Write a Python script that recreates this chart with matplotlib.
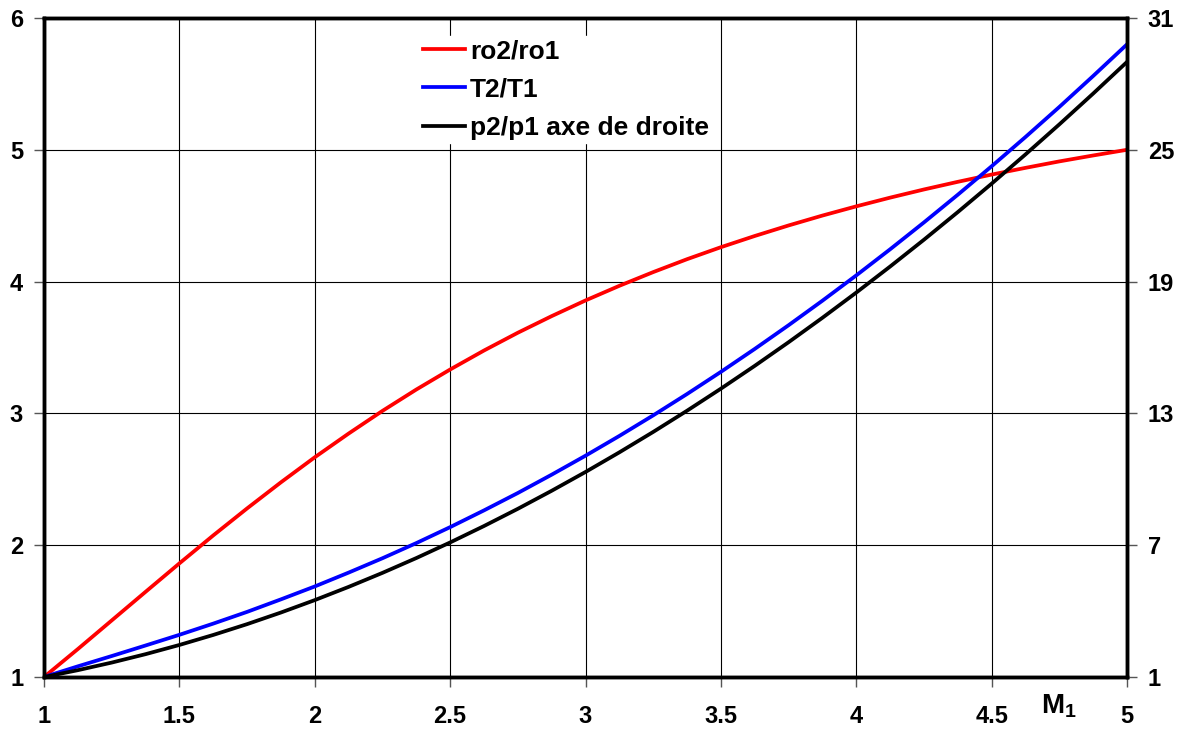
import matplotlib
matplotlib.use('Agg')
import matplotlib.pyplot as plt

plt.rcParams['font.family'] = ['Liberation Sans', 'DejaVu Sans']
plt.rcParams['font.weight'] = 'bold'
plt.rcParams['mathtext.fontset'] = 'custom'
plt.rcParams['mathtext.bf'] = 'Liberation Sans:bold'
plt.rcParams['mathtext.rm'] = 'Liberation Sans:bold'

# nombre de Mach amont
mach = [1.0, 1.125, 1.25, 1.375, 1.5, 1.625, 1.75, 1.875, 2.0, 2.125, 2.25, 2.375, 2.5,
        2.625, 2.75, 2.875, 3.0, 3.125, 3.25, 3.375, 3.5, 3.625, 3.75, 3.875, 4.0,
        4.125, 4.25, 4.375, 4.5, 4.625, 4.75, 4.875, 5.0]
# rapports
ro_ratio = [1.0, 1.212, 1.429, 1.646, 1.862, 2.074, 2.279, 2.477, 2.667, 2.847, 3.019,
            3.181, 3.333, 3.477, 3.612, 3.738, 3.857, 3.968, 4.072, 4.170, 4.261, 4.346,
            4.426, 4.501, 4.571, 4.637, 4.699, 4.757, 4.812, 4.863, 4.912, 4.957, 5.0]
t_ratio = [1.0, 1.081, 1.159, 1.239, 1.320, 1.405, 1.494, 1.589, 1.687, 1.792, 1.901,
           2.016, 2.137, 2.264, 2.396, 2.535, 2.679, 2.829, 2.985, 3.147, 3.315, 3.489,
           3.669, 3.855, 4.047, 4.245, 4.449, 4.659, 4.875, 5.097, 5.325, 5.560, 5.8]
p_ratio = [1.0, 1.310, 1.656, 2.039, 2.458, 2.914, 3.406, 3.935, 4.5, 5.102, 5.740,
           6.414, 7.125, 7.872, 8.656, 9.477, 10.333, 11.227, 12.156, 13.122, 14.125,
           15.164, 16.240, 17.352, 18.5, 19.685, 20.906, 22.164, 23.458, 24.789, 26.156,
           27.560, 29.0]

x_ticks = [1, 1.5, 2, 2.5, 3, 3.5, 4, 4.5, 5]
x_labels = ['1', '1.5', '2', '2.5', '3', '3.5', '4', '4.5', '5']
left_ticks = [1, 2, 3, 4, 5, 6]
right_ticks = [1, 7, 13, 19, 25, 31]

fig = plt.figure(figsize=(11.84, 7.29), dpi=100)
ax = fig.add_axes([44/1184, 52/729, 1083/1184, 659/729])
ax2 = ax.twinx()

l1, = ax.plot(mach, ro_ratio, color='#ff0000', lw=2.7, label='ro2/ro1')
l2, = ax.plot(mach, t_ratio, color='#0000ff', lw=2.7, label='T2/T1')
l3, = ax2.plot(mach, p_ratio, color='black', lw=2.7, label='p2/p1 axe de droite')

ax.set_xlim(1, 5)
ax.set_ylim(1, 6)
ax2.set_ylim(1, 31)
ax.set_xticks(x_ticks)
ax.set_xticklabels(x_labels)
ax.set_yticks(left_ticks)
ax2.set_yticks(right_ticks)

ax.grid(True, color='black', lw=0.8)
for a in (ax, ax2):
    a.tick_params(labelsize=17, length=7, width=1, color='#555555', direction='out')
    for s in a.spines.values():
        s.set_linewidth(2.5)
ax.tick_params(axis='x', pad=13)
ax.tick_params(axis='y', pad=8)
ax2.tick_params(axis='y', pad=8)

ax.text(1059/1184, 1 - 706/729, r'$\mathbf{M_1}$', transform=fig.transFigure,
        ha='center', va='center', fontsize=20)

leg = ax2.legend(handles=[l1, l2, l3], loc='upper left', bbox_to_anchor=(0.335, 0.992),
                 fontsize=19, frameon=True, fancybox=False, handlelength=1.6,
                 handletextpad=0.2, labelspacing=0.55, borderpad=0.1)
leg.get_frame().set_edgecolor('white')
leg.get_frame().set_facecolor('white')
leg.get_frame().set_alpha(1)
for t in leg.get_texts():
    t.set_fontweight('bold')

fig.savefig('out.png', dpi=100)
